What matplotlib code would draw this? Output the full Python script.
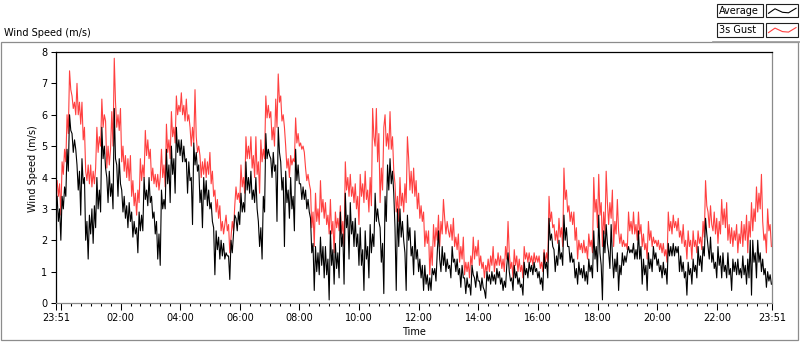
import numpy as np
import matplotlib
matplotlib.use("Agg")
import matplotlib.pyplot as plt
from matplotlib.patches import Rectangle
from matplotlib.lines import Line2D

# ---------------- data (2.5-minute samples starting at 23:51) ----------------
start_clock = "23:51"
step_minutes = 2.5

# one row per hour (24 samples)
average = [
    3.4, 2.6, 3.0, 2.0, 3.4, 3.0, 3.7, 3.4, 4.9, 4.2, 6.0, 5.5, 5.4, 4.8, 5.2, 4.9, 4.4, 3.6, 4.2, 2.8, 4.6, 3.8, 4.0, 2.0,
    2.6, 1.4, 2.8, 2.2, 3.0, 1.9, 3.1, 2.4, 4.0, 3.0, 3.6, 2.9, 5.6, 4.6, 5.0, 4.3, 4.0, 3.2, 4.2, 3.4, 3.8, 3.0, 6.2, 4.6,
    4.4, 3.4, 4.6, 3.8, 3.6, 2.9, 3.4, 2.7, 3.1, 2.4, 3.2, 2.6, 2.9, 2.1, 2.6, 2.2, 2.4, 1.6, 2.9, 2.3, 2.8, 2.3, 4.0, 3.3,
    3.6, 3.1, 4.0, 3.2, 3.4, 2.7, 2.9, 2.2, 2.6, 1.4, 2.2, 1.2, 3.6, 3.0, 3.3, 3.0, 4.9, 3.8, 4.4, 3.2, 5.0, 4.1, 4.6, 3.5,
    5.6, 4.8, 5.2, 4.7, 5.2, 4.5, 5.0, 4.5, 4.6, 3.5, 4.5, 3.9, 4.0, 2.5, 5.1, 4.4, 4.8, 4.2, 4.4, 3.2, 3.6, 2.4, 4.0, 3.3,
    3.9, 3.1, 3.6, 3.0, 3.2, 2.6, 2.4, 0.9, 2.3, 1.7, 2.1, 1.4, 2.0, 1.5, 1.9, 1.4, 1.6, 1.5, 1.5, 0.75, 2.0, 1.6, 2.2, 2.8,
    2.7, 2.3, 2.9, 2.5, 3.5, 2.9, 3.2, 2.9, 4.5, 3.6, 4.0, 3.5, 4.2, 3.3, 3.6, 3.2, 4.0, 3.0, 2.6, 1.8, 2.4, 1.4, 3.4, 2.9,
    5.4, 4.6, 4.9, 4.7, 4.6, 4.0, 4.8, 4.2, 4.4, 2.6, 5.6, 4.8, 4.5, 3.6, 4.0, 1.8, 4.2, 3.2, 3.6, 2.7, 4.0, 3.0, 3.4, 2.3,
    4.9, 3.9, 4.4, 3.8, 3.8, 3.3, 3.7, 3.3, 3.6, 3.0, 3.3, 2.9, 2.7, 1.6, 1.9, 0.4, 1.8, 1.0, 1.6, 0.9, 2.1, 1.2, 1.8, 0.8,
    1.8, 0.9, 1.4, 0.1, 2.3, 1.2, 1.7, 0.6, 1.9, 1.1, 1.6, 0.8, 2.9, 1.8, 2.2, 0.6, 3.5, 2.4, 2.8, 1.4, 3.2, 2.2, 2.6, 1.8,
    2.7, 1.8, 2.2, 1.2, 2.4, 1.2, 1.7, 0.4, 2.3, 1.4, 1.8, 0.8, 2.5, 1.6, 2.2, 1.8, 3.5, 2.6, 3.0, 2.6, 2.4, 1.3, 1.9, 0.3,
    3.4, 2.6, 4.4, 3.6, 4.6, 3.8, 4.2, 3.5, 2.4, 0.4, 3.0, 1.8, 3.0, 2.1, 2.6, 2.0, 1.6, 0.4, 2.8, 2.0, 2.4, 1.5, 1.8, 0.9,
    2.3, 1.4, 1.7, 1.0, 1.4, 0.8, 1.2, 0.4, 1.2, 0.6, 0.9, 0.4, 0.8, 0.4, 1.1, 0.9, 1.1, 0.7, 1.6, 2.3, 1.4, 1.0, 1.8, 1.2,
    1.6, 1.0, 1.4, 1.1, 1.2, 0.8, 1.8, 1.3, 1.4, 1.0, 1.4, 0.9, 1.1, 0.5, 1.2, 0.8, 0.8, 0.3, 0.8, 0.5, 0.6, 0.25, 1.2, 0.9,
    0.8, 0.5, 1.0, 0.7, 0.7, 0.4, 0.8, 0.5, 0.4, 0.15, 1.0, 0.7, 0.9, 0.6, 1.0, 0.7, 0.9, 0.6, 1.1, 0.8, 1.0, 0.6, 0.8, 0.4,
    0.7, 0.5, 1.2, 1.6, 1.0, 0.7, 0.8, 0.4, 1.2, 0.8, 1.0, 0.6, 0.8, 0.5, 0.6, 0.25, 1.3, 0.9, 1.1, 0.8, 1.3, 1.0, 1.2, 0.9,
    1.3, 1.0, 1.1, 0.8, 1.0, 0.6, 0.8, 0.4, 1.6, 1.1, 1.3, 0.8, 2.7, 2.0, 2.2, 1.8, 1.7, 1.0, 1.5, 1.2, 2.0, 1.4, 1.6, 1.2,
    2.8, 2.0, 2.4, 1.8, 1.8, 1.3, 1.6, 1.3, 1.4, 0.8, 1.1, 0.6, 1.3, 0.9, 1.1, 0.8, 1.2, 0.7, 1.0, 0.6, 1.4, 1.0, 1.2, 0.8,
    2.3, 1.4, 1.8, 1.0, 2.8, 1.6, 1.2, 0.1, 2.3, 1.6, 2.5, 1.9, 1.6, 1.1, 2.5, 1.5, 0.8, 1.4, 1.0, 1.6, 0.4, 1.2, 0.9, 1.6,
    1.2, 1.5, 1.3, 1.6, 1.8, 1.6, 1.7, 1.6, 1.9, 1.4, 1.7, 1.4, 2.3, 1.4, 1.8, 0.6, 1.4, 0.9, 1.2, 0.4, 1.6, 1.1, 1.4, 1.0,
    1.8, 1.4, 1.6, 1.2, 1.4, 1.0, 1.2, 0.8, 1.3, 0.9, 1.1, 0.6, 1.9, 1.5, 1.8, 1.5, 1.9, 1.5, 1.8, 1.6, 1.8, 1.0, 1.5, 1.0,
    1.3, 0.8, 1.0, 0.25, 1.3, 0.9, 1.1, 0.6, 1.4, 1.0, 1.2, 0.8, 1.8, 1.2, 1.5, 1.0, 1.8, 1.5, 2.7, 2.2, 1.8, 1.4, 2.1, 1.3,
    1.6, 1.1, 1.3, 0.8, 1.8, 1.2, 1.5, 0.8, 1.6, 1.0, 1.2, 0.8, 1.6, 0.9, 1.1, 0.4, 1.4, 1.0, 1.3, 0.9, 1.4, 0.9, 1.1, 0.8,
    1.5, 0.9, 1.2, 0.6, 1.4, 0.8, 2.0, 0.25, 2.0, 1.3, 1.6, 0.8, 2.0, 1.3, 1.6, 1.0, 1.4, 0.9, 1.1, 0.5, 1.0, 0.7, 0.9, 0.6,
]

gust_3s = [
    3.9, 3.4, 3.8, 2.8, 4.5, 4.1, 4.9, 4.5, 6.0, 5.4, 7.4, 6.8, 6.6, 6.2, 6.4, 6.0, 7.0, 6.0, 6.4, 5.7, 6.4, 5.2, 5.6, 4.2,
    3.9, 4.4, 3.8, 4.4, 3.7, 4.2, 3.8, 4.3, 5.6, 4.8, 5.3, 5.0, 6.5, 5.6, 6.0, 5.8, 4.3, 5.0, 4.4, 4.9, 6.1, 5.0, 7.8, 6.4,
    5.6, 6.0, 5.5, 6.2, 4.5, 5.0, 4.2, 4.7, 4.0, 4.6, 3.9, 4.7, 3.4, 3.9, 3.1, 3.5, 2.8, 3.6, 3.2, 4.6, 3.9, 4.4, 4.0, 5.5,
    4.7, 5.2, 4.6, 4.9, 3.9, 4.3, 3.8, 4.1, 3.7, 4.1, 3.6, 4.0, 4.9, 4.0, 4.4, 3.7, 5.7, 4.8, 5.2, 4.6, 6.1, 5.3, 5.6, 5.1,
    6.6, 6.0, 6.3, 6.1, 6.7, 6.0, 6.3, 5.8, 6.5, 5.8, 6.0, 5.6, 5.0, 5.6, 5.1, 6.8, 5.3, 4.8, 5.0, 4.7, 4.0, 4.5, 4.1, 4.6,
    4.0, 4.5, 4.1, 4.8, 3.8, 4.2, 3.4, 3.6, 2.9, 3.3, 2.7, 3.1, 2.3, 2.6, 2.2, 2.5, 2.8, 2.3, 2.5, 1.6, 2.1, 2.6, 2.3, 3.1,
    3.7, 3.3, 3.5, 3.2, 4.4, 3.7, 4.0, 3.5, 5.3, 4.6, 5.0, 4.6, 5.3, 4.3, 4.7, 4.0, 5.3, 4.1, 4.5, 3.5, 5.2, 4.5, 4.9, 4.6,
    6.6, 5.9, 6.3, 5.9, 6.1, 5.2, 5.6, 5.0, 6.5, 5.6, 7.3, 6.4, 6.6, 5.8, 6.0, 5.6, 5.0, 4.3, 4.6, 4.0, 4.7, 4.4, 4.6, 4.5,
    5.9, 5.1, 5.4, 5.0, 5.1, 4.9, 5.0, 4.8, 4.3, 3.9, 4.1, 3.8, 3.6, 2.4, 2.9, 1.8, 3.5, 2.6, 3.0, 2.5, 3.9, 2.9, 3.3, 2.7,
    3.2, 2.5, 2.8, 2.2, 3.3, 2.2, 2.6, 1.6, 2.9, 2.4, 2.7, 2.3, 3.1, 2.2, 2.6, 1.8, 4.5, 3.6, 4.0, 3.4, 4.1, 3.4, 3.7, 3.2,
    3.8, 3.0, 3.4, 2.5, 4.1, 3.4, 3.8, 3.2, 4.2, 3.3, 3.6, 2.9, 4.0, 3.1, 6.2, 5.3, 5.0, 6.2, 4.5, 5.4, 3.2, 4.3, 3.6, 5.6,
    6.0, 5.0, 5.4, 4.9, 6.1, 4.9, 5.3, 4.2, 3.8, 2.9, 3.4, 2.6, 4.0, 3.1, 3.5, 2.9, 3.8, 3.2, 5.3, 4.6, 3.6, 4.2, 3.5, 4.3,
    3.4, 3.9, 3.0, 3.5, 2.7, 3.1, 2.6, 2.9, 1.8, 2.3, 1.9, 2.3, 0.9, 1.8, 1.2, 2.5, 1.8, 2.4, 2.0, 2.8, 1.8, 2.6, 2.2, 3.3,
    2.7, 2.2, 2.6, 2.3, 2.1, 2.5, 2.0, 2.7, 1.8, 2.1, 1.7, 2.2, 1.3, 1.8, 1.4, 2.1, 0.9, 1.3, 1.0, 1.3, 0.8, 1.5, 1.2, 2.1,
    1.4, 1.8, 1.5, 2.0, 1.2, 1.5, 1.1, 1.3, 0.8, 1.2, 1.0, 1.4, 1.0, 1.5, 1.2, 1.8, 1.0, 1.4, 1.2, 1.6, 1.2, 1.5, 1.1, 1.4,
    1.0, 1.8, 1.4, 2.6, 1.6, 1.1, 1.3, 0.8, 1.7, 1.2, 1.5, 1.0, 1.4, 1.0, 1.2, 0.8, 1.8, 1.4, 1.6, 1.3, 1.6, 1.3, 1.5, 1.2,
    1.6, 1.3, 1.5, 1.3, 1.5, 1.1, 1.3, 1.0, 1.7, 1.3, 1.6, 1.3, 3.4, 2.6, 2.9, 2.4, 2.5, 2.0, 2.3, 1.9, 2.7, 2.1, 2.4, 1.8,
    4.3, 3.3, 3.6, 2.9, 3.1, 2.6, 2.9, 2.5, 2.9, 2.0, 2.4, 1.4, 2.0, 1.7, 1.9, 1.6, 2.0, 1.6, 1.8, 1.4, 2.2, 1.8, 2.0, 1.6,
    4.0, 2.9, 3.3, 2.4, 4.1, 2.8, 3.2, 1.8, 2.9, 2.2, 4.2, 3.2, 2.5, 3.2, 2.7, 3.6, 1.8, 2.6, 2.2, 3.3, 2.3, 1.9, 2.2, 1.8,
    2.0, 1.8, 1.9, 1.7, 2.9, 2.3, 2.6, 2.2, 2.9, 2.2, 2.5, 2.0, 2.9, 2.2, 2.5, 1.8, 2.2, 1.7, 1.9, 1.4, 2.6, 2.0, 2.3, 1.8,
    2.1, 1.9, 2.0, 1.8, 2.0, 1.7, 1.9, 1.6, 1.9, 1.5, 1.7, 1.3, 2.9, 2.3, 2.6, 2.2, 2.8, 2.4, 2.6, 2.3, 2.7, 2.1, 2.3, 1.9,
    2.5, 1.8, 2.0, 1.4, 2.3, 1.8, 2.0, 1.4, 2.3, 1.8, 2.0, 1.6, 2.3, 1.9, 2.1, 1.7, 2.6, 2.1, 3.9, 3.1, 2.9, 2.4, 3.1, 2.5,
    2.3, 2.9, 2.2, 2.7, 1.9, 2.6, 2.2, 3.3, 2.5, 3.0, 2.4, 3.2, 2.0, 2.5, 1.9, 2.4, 1.8, 2.3, 2.0, 2.5, 1.6, 2.2, 1.9, 2.6,
    1.8, 2.5, 2.0, 2.8, 1.6, 2.6, 2.1, 3.2, 2.3, 3.0, 2.6, 3.7, 2.9, 3.5, 3.0, 4.1, 2.6, 2.0, 2.2, 1.6, 3.0, 2.3, 2.5, 1.8,
]

tick_clocks = ["23:51", "00:00", "02:00", "04:00", "06:00", "08:00", "10:00",
               "12:00", "14:00", "16:00", "18:00", "20:00", "22:00", "23:51"]
tick_texts = ["23:51", "", "02:00", "04:00", "06:00", "08:00", "10:00",
              "12:00", "14:00", "16:00", "18:00", "20:00", "22:00", "23:51"]
series_names = ["Average", "3s Gust"]
series_colors = ["#000000", "#ff4040"]

# ---------------- helpers ----------------
def clock_to_min(s):
    h, m = s.split(":")
    return int(h) * 60 + int(m)

start = clock_to_min(start_clock)
tick_pos = [(clock_to_min(c) - start) % 1440 for c in tick_clocks]
tick_pos[-1] = 1440
t = np.arange(len(average)) * step_minutes + step_minutes / 2.0

FONT = "DejaVu Sans"
FS = 7
plt.rcParams["font.family"] = FONT

W, H = 800, 342
fig = plt.figure(figsize=(W / 100, H / 100), dpi=100, facecolor="white")

# axes placement in pixels
x0, x1, y0, y1 = 56.5, 772.0, 52.0, 303.0
ax = fig.add_axes([x0 / W, 1 - y1 / H, (x1 - x0) / W, (y1 - y0) / H])
ax.set_facecolor("white")

ax.plot(t, gust_3s, color=series_colors[1], lw=0.8, zorder=2)
ax.plot(t, average, color=series_colors[0], lw=0.8, zorder=3)

ax.set_xlim(0, 1440)
ax.set_ylim(0, 8)
ax.set_yticks(range(0, 9))
ax.set_xticks(tick_pos)
ax.set_xticklabels(tick_texts)
ax.set_xticks(np.arange(tick_pos[1], 1440, 20), minor=True)

ax.tick_params(axis="y", which="major", length=3.6, width=0.75, pad=3.0,
               labelsize=FS, colors="black")
ax.tick_params(axis="x", which="major", length=5.0, width=0.75, pad=2.0,
               labelsize=FS, colors="black")
ax.tick_params(axis="x", which="minor", length=2.2, width=0.75, colors="black")

for side in ["left", "top"]:
    ax.spines[side].set_color("black")
    ax.spines[side].set_linewidth(0.9)
for side in ["right", "bottom"]:
    ax.spines[side].set_color("#8a8a8a")
    ax.spines[side].set_linewidth(0.9)

# ---------------- overlay for frame, labels and legend ----------------
ov = fig.add_axes([0, 0, 1, 1], zorder=10)
ov.set_xlim(0, W)
ov.set_ylim(H, 0)
ov.axis("off")
ov.patch.set_alpha(0)

ov.add_patch(Rectangle((0.5, 42.0), 797.0, 298.0, fill=False,
                       edgecolor="#8c8c8c", lw=0.9))
ov.text(4, 33, "Wind Speed (m/s)", fontsize=FS, ha="left", va="center")
ov.text(32.7, 169, "Wind Speed (m/s)", fontsize=FS, rotation=90,
        ha="center", va="center")
ov.text(413.7, 332, "Time", fontsize=FS, ha="center", va="center")

# legend
ov.add_line(Line2D([713, 800], [42.2, 42.2], color="#9a9a9a", lw=1.2))
rows_y = [4.0, 23.3]
for name, col, yy in zip(series_names, series_colors, rows_y):
    ov.add_patch(Rectangle((717, yy), 46, 13.3, fill=True, facecolor="white",
                           edgecolor="#202020", lw=0.8))
    ov.text(719, yy + 7.0, name, fontsize=FS, ha="left", va="center")
    ov.add_patch(Rectangle((766, yy), 32, 13.3, fill=True, facecolor="white",
                           edgecolor="#202020", lw=0.8))
    sx = [768.5, 775.0, 782.5, 788.5, 796.0]
    sy = [yy + 9.3, yy + 4.8, yy + 8.3, yy + 8.8, yy + 4.3]
    ov.add_line(Line2D(sx, sy, color=col, lw=0.8))

fig.savefig("out.png", dpi=100, facecolor="white")
